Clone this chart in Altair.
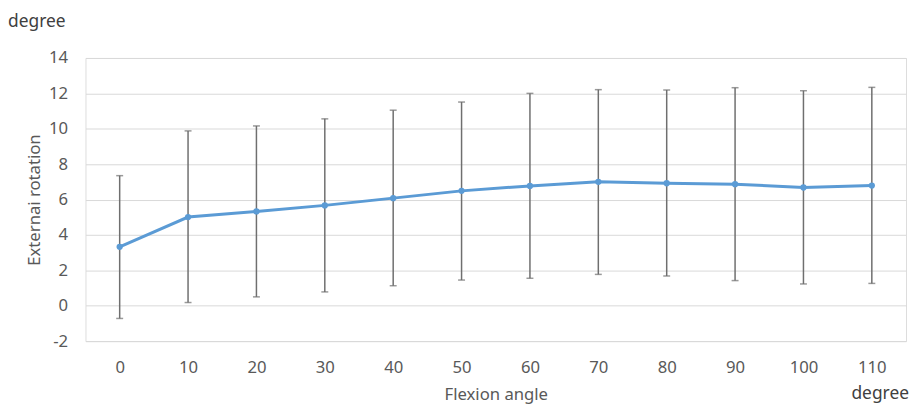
import altair as alt
import pandas as pd

angles = ["0", "10", "20", "30", "40", "50", "60", "70", "80", "90", "100", "110"]
means = [3.33, 5.01, 5.33, 5.67, 6.08, 6.49, 6.77, 7.00, 6.92, 6.87, 6.68, 6.79]
uppers = [7.35, 9.88, 10.16, 10.56, 11.05, 11.51, 12.00, 12.21, 12.19, 12.32, 12.15, 12.34]
lowers = [-0.72, 0.18, 0.50, 0.78, 1.13, 1.45, 1.55, 1.77, 1.68, 1.42, 1.23, 1.26]
y_ticks = [-2, 0, 2, 4, 6, 8, 10, 12, 14]

df = pd.DataFrame({"angle": angles, "mean": means, "upper": uppers, "lower": lowers})

FONT = "Noto Sans"
W, H = 826, 285
LBL = 16.8
TTL = 16.8

xenc = alt.X(
    "angle:O",
    sort=angles,
    scale=alt.Scale(type="point", padding=0.5),
    axis=alt.Axis(
        title="Flexion angle", labelAngle=0, domain=False, ticks=False,
        labelPadding=19, titlePadding=10, labelFontSize=LBL, titleFontSize=TTL,
        titleFontWeight="normal",
        labelColor="#595959", titleColor="#595959", labelFont=FONT, titleFont=FONT,
        grid=False,
    ),
)
yscale = alt.Scale(domain=[-2, 14], nice=False)
yaxis = alt.Axis(
    title="Externai rotation", values=y_ticks, domain=False, ticks=False,
    labelOverlap=False, labelExpr="'' + datum.value",
    labelPadding=18, titlePadding=5, labelFontSize=LBL, titleFontSize=TTL,
    titleFontWeight="normal",
    labelColor="#595959", titleColor="#595959", labelFont=FONT, titleFont=FONT,
    gridColor="#d9d9d9", gridWidth=1,
)

base = alt.Chart(df)

rules = base.mark_rule(color="#6f6f6f", strokeWidth=1.5).encode(
    x=xenc, y=alt.Y("lower:Q", scale=yscale, axis=yaxis, title="Externai rotation"), y2="upper:Q"
)
cap_hi = base.mark_tick(color="#6f6f6f", size=7, thickness=1.5).encode(
    x=xenc, y=alt.Y("upper:Q", scale=yscale, axis=yaxis, title="Externai rotation")
)
cap_lo = base.mark_tick(color="#6f6f6f", size=7, thickness=1.5).encode(
    x=xenc, y=alt.Y("lower:Q", scale=yscale, axis=yaxis, title="Externai rotation")
)
line = base.mark_line(
    color="#5B9BD5", strokeWidth=3,
    point=alt.OverlayMarkDef(color="#5B9BD5", filled=True, size=40, opacity=1),
).encode(x=xenc, y=alt.Y("mean:Q", scale=yscale, axis=yaxis, title="Externai rotation"))

unit_text = alt.Chart(pd.DataFrame({"t": ["degree"]})).mark_text(
    align="right", baseline="alphabetic", fontSize=17.5, font=FONT, color="#404040"
).encode(x=alt.value(W + 3), y=alt.value(H + 58), text="t:N")

chart = alt.layer(rules, cap_hi, cap_lo, line, unit_text).properties(
    width=W, height=H,
    title=alt.TitleParams(
        "degree", anchor="start", frame="group", fontSize=17.5, font=FONT,
        fontWeight="normal", color="#404040", dx=-78, offset=20,
    ),
    autosize=alt.AutoSizeParams(type="none"),
    padding={"left": 78, "top": 49, "right": 3, "bottom": 62},
).configure_view(stroke=None).configure(background="white")

chart.save("out.html", embed_options={"renderer": "svg", "actions": False})
